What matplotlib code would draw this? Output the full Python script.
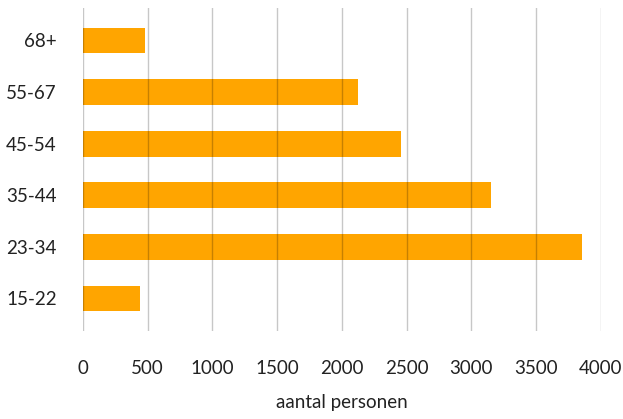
import matplotlib.pyplot as plt

leeftijden = ['15-22', '23-34', '35-44', '45-54', '55-67', '68+']
aantallen = [441, 3855, 3150, 2457, 2125, 479]
x_ticks = [0, 500, 1000, 1500, 2000, 2500, 3000, 3500, 4000]

plt.rcParams['font.family'] = ['Lato', 'DejaVu Sans']

fig = plt.figure(figsize=(6.23, 4.19), dpi=100)
ax = fig.add_axes([0.1332, 0.21, 0.831, 0.771])

ax.barh(leeftijden, aantallen, height=0.5, color='#FFA500', zorder=2)

ax.set_xlim(0, 4000)
ax.set_ylim(-0.63, 5.63)
ax.set_xticks(x_ticks)
ax.set_xticklabels([str(t) for t in x_ticks])

# verticale rasterlijnen over de balken heen
for t in x_ticks:
    ax.axvline(t, color='black', alpha=0.22, lw=1.0, zorder=3)

for s in ax.spines.values():
    s.set_visible(False)
ax.tick_params(axis='both', length=0, labelsize=13.5, labelcolor='#222222')
ax.tick_params(axis='x', pad=21)
ax.tick_params(axis='y', pad=19)

ax.set_xlabel('aantal personen', fontsize=13.5, color='#222222', labelpad=12)

fig.savefig('out.png', dpi=100)
